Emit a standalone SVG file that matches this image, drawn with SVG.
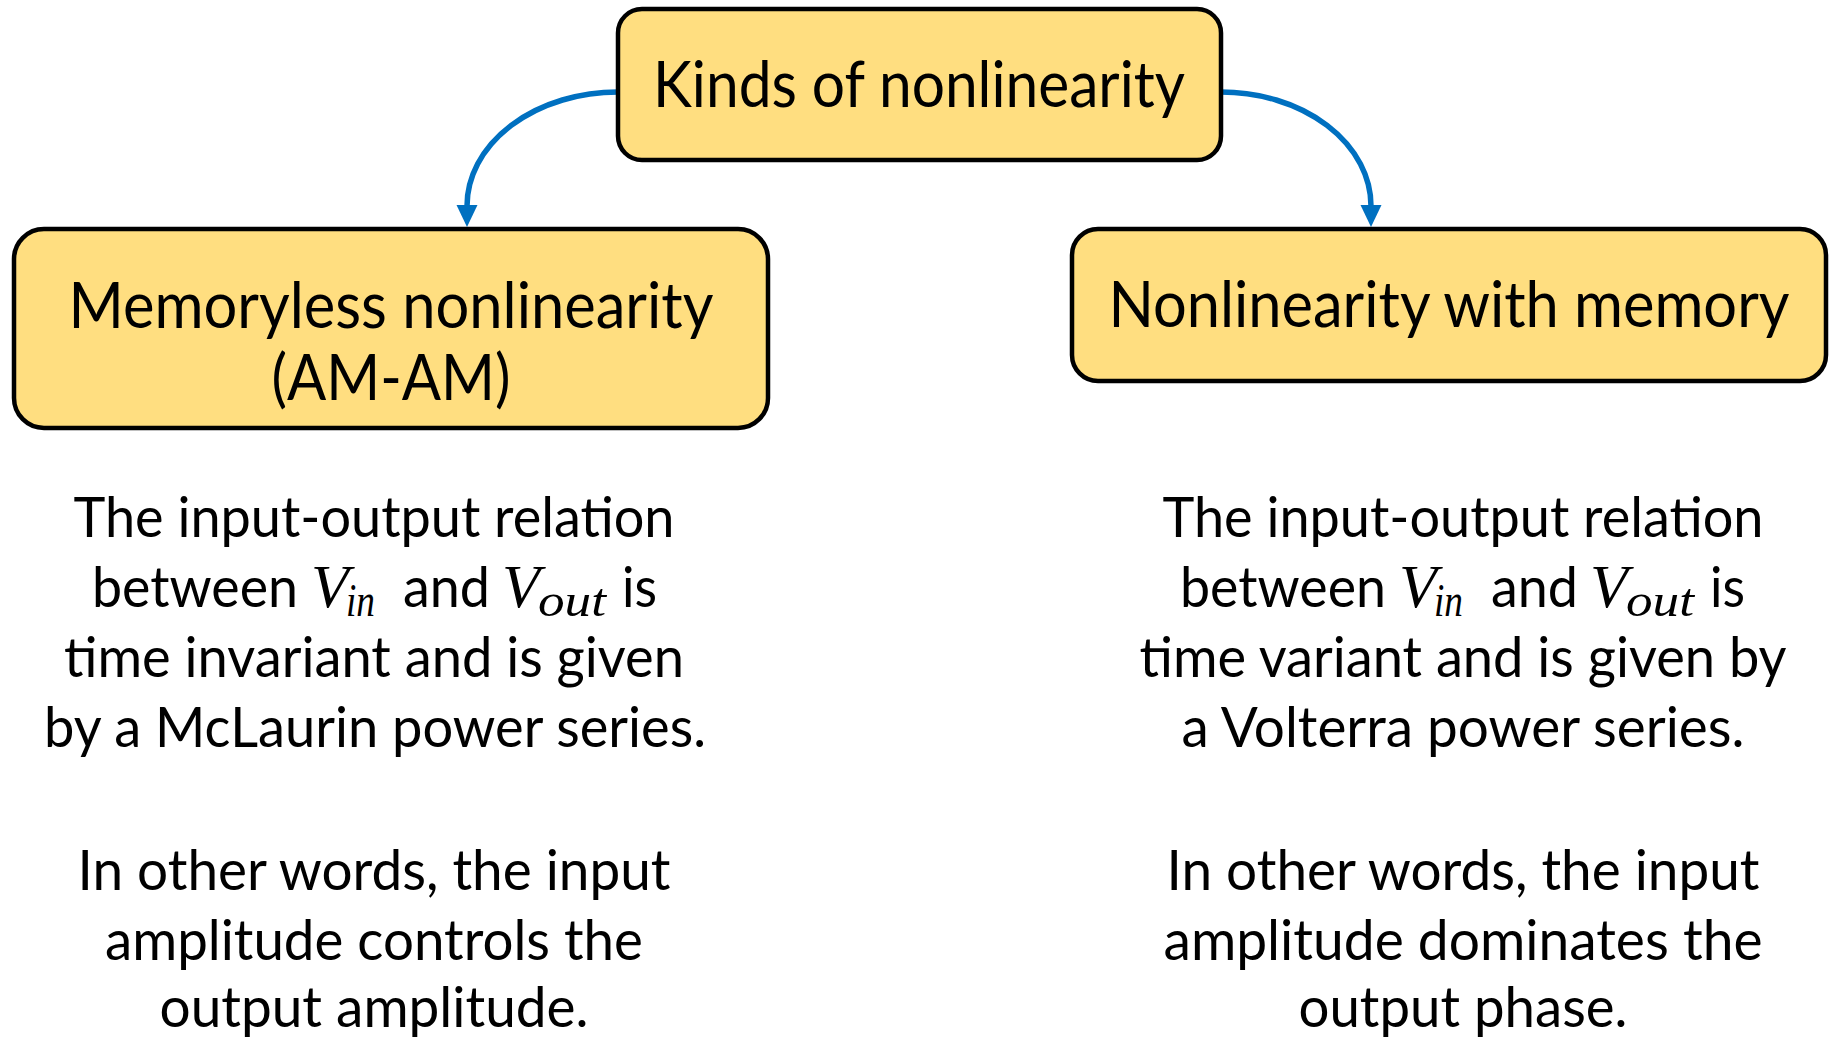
<svg xmlns="http://www.w3.org/2000/svg" width="1831" height="1038" viewBox="0 0 1831 1038">
<style>
.box{fill:#FFDE80;stroke:#000;stroke-width:4.5}
.bt{font-family:Lato,"Open Sans",sans-serif;font-size:63px;fill:#000;text-anchor:middle}
.tx{font-family:Lato,"Open Sans",sans-serif;font-size:57px;fill:#000;text-anchor:middle}
.tl{font-family:Lato,"Open Sans",sans-serif;font-size:57px;fill:#000}
.mv{font-family:"Liberation Serif",serif;font-style:italic;font-size:62px;fill:#000}
.ms{font-family:"Liberation Serif",serif;font-style:italic;font-size:46px;fill:#000}
.conn{fill:none;stroke:#0070C0;stroke-width:5.5}
</style>
<defs>
<marker id="ah" markerUnits="userSpaceOnUse" markerWidth="24" markerHeight="24" viewBox="0 0 24 24" refX="1" refY="12" orient="auto">
<path d="M0,1.5 L22,12 L0,22.5 Z" fill="#0070C0"/>
</marker>
</defs>
<rect width="1831" height="1038" fill="#fff"/>
<g id="connectors">
<path class="conn" d="M618,92 A151,114 0 0 0 467,206" marker-end="url(#ah)"/>
<path class="conn" d="M1221,92 A150,114 0 0 1 1371,206" marker-end="url(#ah)"/>
</g>
<g id="node-kinds">
<rect class="box" x="618" y="9" width="603" height="151" rx="24"/>
<text class="bt" x="919" y="107" textLength="532" lengthAdjust="spacingAndGlyphs">Kinds of nonlinearity</text>
</g>
<g id="node-memoryless">
<rect class="box" x="14" y="229" width="754" height="199" rx="30"/>
<text class="bt" x="391" y="328" textLength="645" lengthAdjust="spacingAndGlyphs">Memoryless nonlinearity</text>
<text class="bt" x="391" y="400" textLength="239" lengthAdjust="spacingAndGlyphs">(AM-AM)</text>
</g>
<g id="node-memory">
<rect class="box" x="1072" y="229" width="754" height="152" rx="26"/>
<text class="bt" x="1449" y="327" textLength="681" lengthAdjust="spacingAndGlyphs">Nonlinearity with memory</text>
</g>
<g id="text-left">
<text class="tx" x="374" y="537" textLength="601" lengthAdjust="spacingAndGlyphs">The input-output relation</text>
<text class="tl" x="92" y="607" textLength="206" lengthAdjust="spacingAndGlyphs">between</text>
<text class="mv" x="311" y="607">V</text>
<text class="ms" x="346" y="616" textLength="29" lengthAdjust="spacingAndGlyphs">in</text>
<text class="tl" x="403" y="607" textLength="87" lengthAdjust="spacingAndGlyphs">and</text>
<text class="mv" x="502" y="607">V</text>
<text class="ms" x="538" y="616" textLength="68" lengthAdjust="spacingAndGlyphs">out</text>
<text class="tl" x="622" y="607" textLength="35" lengthAdjust="spacingAndGlyphs">is</text>
<text class="tx" x="374" y="677" textLength="620" lengthAdjust="spacingAndGlyphs">time invariant and is given</text>
<text class="tx" x="375" y="747" textLength="662" lengthAdjust="spacingAndGlyphs">by a McLaurin power series.</text>
<text class="tx" x="374" y="890" textLength="593" lengthAdjust="spacingAndGlyphs">In other words, the input</text>
<text class="tx" x="374" y="960" textLength="538" lengthAdjust="spacingAndGlyphs">amplitude controls the</text>
<text class="tx" x="374" y="1027" textLength="429" lengthAdjust="spacingAndGlyphs">output amplitude.</text>
</g>
<g id="text-right">
<text class="tx" x="1463" y="537" textLength="601" lengthAdjust="spacingAndGlyphs">The input-output relation</text>
<text class="tl" x="1180" y="607" textLength="206" lengthAdjust="spacingAndGlyphs">between</text>
<text class="mv" x="1399" y="607">V</text>
<text class="ms" x="1434" y="616" textLength="29" lengthAdjust="spacingAndGlyphs">in</text>
<text class="tl" x="1491" y="607" textLength="87" lengthAdjust="spacingAndGlyphs">and</text>
<text class="mv" x="1590" y="607">V</text>
<text class="ms" x="1626" y="616" textLength="68" lengthAdjust="spacingAndGlyphs">out</text>
<text class="tl" x="1710" y="607" textLength="35" lengthAdjust="spacingAndGlyphs">is</text>
<text class="tx" x="1463" y="677" textLength="647" lengthAdjust="spacingAndGlyphs">time variant and is given by</text>
<text class="tx" x="1463" y="747" textLength="563" lengthAdjust="spacingAndGlyphs">a Volterra power series.</text>
<text class="tx" x="1463" y="890" textLength="593" lengthAdjust="spacingAndGlyphs">In other words, the input</text>
<text class="tx" x="1463" y="960" textLength="599" lengthAdjust="spacingAndGlyphs">amplitude dominates the</text>
<text class="tx" x="1463" y="1027" textLength="329" lengthAdjust="spacingAndGlyphs">output phase.</text>
</g>
</svg>
